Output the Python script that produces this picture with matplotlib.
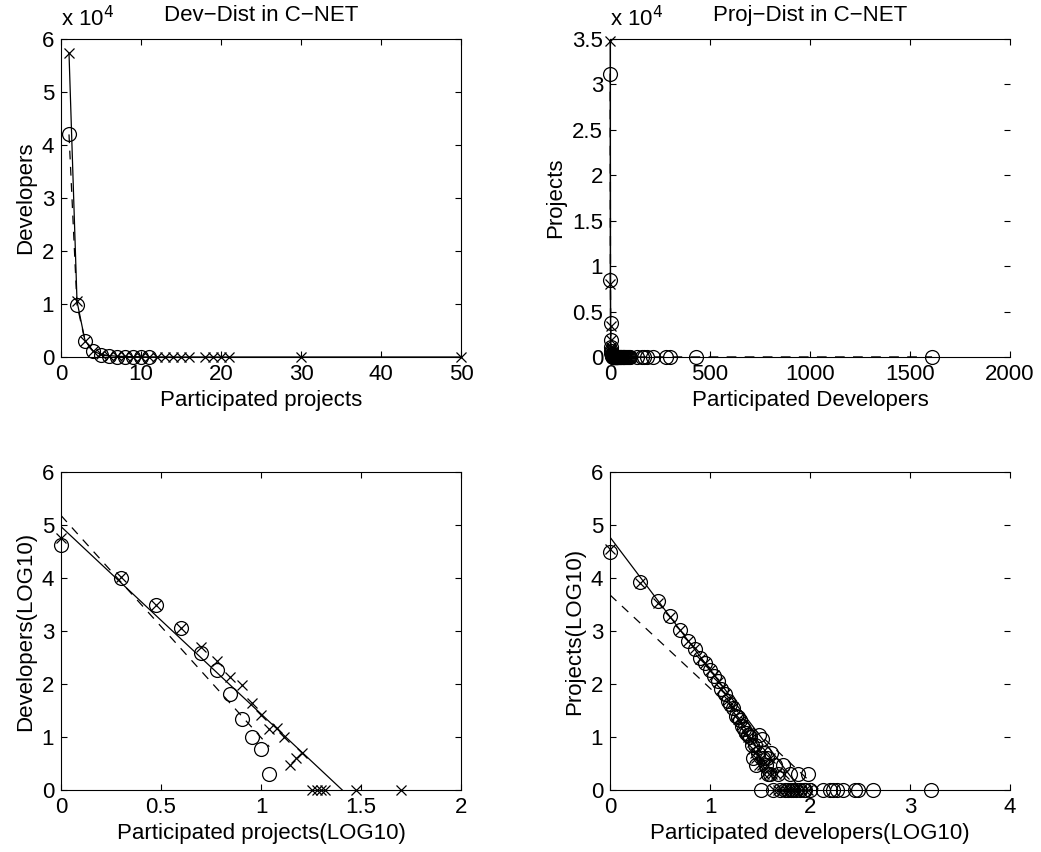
import matplotlib
matplotlib.use("Agg")
import matplotlib.pyplot as plt
import numpy as np
from matplotlib.ticker import FuncFormatter

plt.rcParams["font.family"] = ["Liberation Sans", "DejaVu Sans"]

# developers per number of participated projects
dev_k_x = [1, 2, 3, 4, 5, 6, 7, 8, 9, 10, 11, 12, 13, 14, 15, 16, 18, 19, 20, 21, 30, 50]
dev_n_x = [57300, 10500, 3100, 1120, 500, 270, 135, 95, 43, 26, 14, 15, 10, 3, 4, 5, 1, 1, 1, 1, 1, 1]
dev_k_o = [1, 2, 3, 4, 5, 6, 7, 8, 9, 10, 11]
dev_n_o = [42000, 9800, 3100, 1120, 380, 182, 66, 22, 10, 6, 2]

# projects per number of participated developers
proj_k_o = [1, 2, 3, 4, 5, 6, 7, 8, 9, 10, 11, 12, 13, 14, 15, 16, 17, 18, 19, 20,
            21, 22, 23, 24, 25, 26, 27, 28, 29, 30, 31, 32, 33, 34, 35, 36, 37, 38, 40, 41,
            43, 45, 48, 50, 54, 56, 60, 63, 65, 68, 72, 76, 80, 86, 90, 96, 100,
            136, 158, 171, 185, 215, 282, 300, 430, 1610]
proj_n_o = [31200, 8500, 3700, 1900, 1050, 650, 460, 310, 245, 185, 140, 112, 80, 66, 48, 42, 35, 25, 24, 21,
            16, 14, 12, 11, 10, 7, 4, 7, 3, 5, 11, 1, 9, 4, 5, 3, 4, 2, 2, 5,
            1, 3, 2, 1, 3, 1, 1, 2, 1, 1, 1, 2, 1, 1, 1, 2, 1,
            1, 1, 1, 1, 1, 1, 1, 1, 1]
proj_k_x = [1, 2, 3, 4, 5, 6, 7, 8, 9, 10, 11, 12, 13, 14, 15, 16, 17, 18, 19, 20,
            21, 22, 23, 24, 25, 26, 27, 28, 29, 30, 31, 32, 33, 35, 37, 39, 40, 42, 44, 46,
            48, 52, 55, 58, 62, 66, 70, 75, 82, 88, 95]
proj_n_x = [34800, 8000, 3400, 1850, 1060, 640, 470, 300, 250, 180, 145, 110, 82, 64, 50, 40, 36, 26, 22, 20,
            17, 13, 12, 10, 9, 8, 6, 5, 4, 6, 3, 4, 3, 2, 3, 2, 4, 2, 1, 2,
            1, 1, 2, 1, 1, 1, 1, 1, 1, 1, 1]

# straight-line fits: [slope, intercept]
dev_fit_solid = [-3.535, 4.97]
dev_fit_dash = [-4.19, 5.18]
proj_fit_solid = [-2.5, 4.77]
proj_fit_dash = [-1.76, 3.68]

FS = 16
DASH = (0, (7, 6))


def style(ax, right_col=False):
    ax.tick_params(direction="in", top=True, right=True, length=4, width=0.8,
                   labelsize=FS, pad=5)
    for s in ax.spines.values():
        s.set_linewidth(0.8)
    if right_col:
        ax.spines["right"].set_visible(False)


def e4(ax):
    ax.yaxis.set_major_formatter(FuncFormatter(lambda v, p: f"{v / 1e4:g}"))
    ax.text(0.0, 1.025, r"x 10$^{4}$", transform=ax.transAxes, fontsize=FS,
            ha="left", va="bottom")


fig = plt.figure(figsize=(10.41, 8.52), dpi=100)
w, h = 0.3843, 0.3732
ax1 = fig.add_axes([0.0586, 0.581, w, h])
ax2 = fig.add_axes([0.586, 0.581, w, h])
ax3 = fig.add_axes([0.0586, 0.0728, w, h])
ax4 = fig.add_axes([0.586, 0.0728, w, h])

mk_x = dict(marker="x", ms=7, mew=0.9, color="k", mfc="none", clip_on=False)
mk_o = dict(marker="o", ms=10, mew=0.9, color="k", mfc="none", clip_on=False)

# top left
ax1.plot(dev_k_x, dev_n_x, ls="-", lw=0.9, **mk_x)
ax1.plot(dev_k_o, dev_n_o, ls=DASH, lw=0.9, **mk_o)
ax1.set_xlim(0, 50)
ax1.set_ylim(0, 6e4)
ax1.set_xticks([0, 10, 20, 30, 40, 50])
ax1.set_yticks(np.arange(0, 6.01e4, 1e4))
e4(ax1)
ax1.set_title("Dev\u2212Dist in C\u2212NET", fontsize=FS, pad=13)
ax1.set_xlabel("Participated projects", fontsize=FS)
ax1.set_ylabel("Developers", fontsize=FS)
style(ax1)

# top right
ax2.plot(proj_k_x, proj_n_x, ls="-", lw=1.0, **mk_x)
ax2.plot(proj_k_o, proj_n_o, ls=DASH, lw=1.0, **mk_o)
ax2.set_xlim(0, 2000)
ax2.set_ylim(0, 3.5e4)
ax2.set_xticks([0, 500, 1000, 1500, 2000])
ax2.set_yticks(np.arange(0, 3.51e4, 0.5e4))
e4(ax2)
ax2.set_title("Proj\u2212Dist in C\u2212NET", fontsize=FS, pad=13)
ax2.set_xlabel("Participated Developers", fontsize=FS)
ax2.set_ylabel("Projects", fontsize=FS)
style(ax2, True)

# bottom left (log10)
lx = np.log10(dev_k_x)
lo = np.log10(dev_k_o)
ax3.plot(lx, np.log10(dev_n_x), ls="none", **mk_x)
ax3.plot(lo, np.log10(dev_n_o), ls="none", **mk_o)
xs = np.array([0, lx.max()])
ax3.plot(xs, np.polyval(dev_fit_solid, xs), "k-", lw=0.9)
xd = np.array([0, lo.max()])
ax3.plot(xd, np.polyval(dev_fit_dash, xd), color="k", ls=DASH, lw=0.9)
ax3.set_xlim(0, 2)
ax3.set_ylim(0, 6)
ax3.set_xticks([0, 0.5, 1, 1.5, 2])
ax3.xaxis.set_major_formatter(FuncFormatter(lambda v, p: f"{v:g}"))
ax3.set_xlabel("Participated projects(LOG10)", fontsize=FS)
ax3.set_ylabel("Developers(LOG10)", fontsize=FS)
style(ax3)

# bottom right (log10)
px = np.log10(proj_k_x)
po = np.log10(proj_k_o)
ax4.plot(px, np.log10(proj_n_x), ls="none", **mk_x)
ax4.plot(po, np.log10(proj_n_o), ls="none", **mk_o)
xs = np.array([0, po.max()])
ax4.plot(xs, np.polyval(proj_fit_solid, xs), "k-", lw=0.9)
ax4.plot(xs, np.polyval(proj_fit_dash, xs), color="k", ls=DASH, lw=0.9)
ax4.set_xlim(0, 4)
ax4.set_ylim(0, 6)
ax4.set_xticks([0, 1, 2, 3, 4])
ax4.set_xlabel("Participated developers(LOG10)", fontsize=FS)
ax4.set_ylabel("Projects(LOG10)", fontsize=FS)
style(ax4, True)

fig.savefig("out.png", dpi=100)
